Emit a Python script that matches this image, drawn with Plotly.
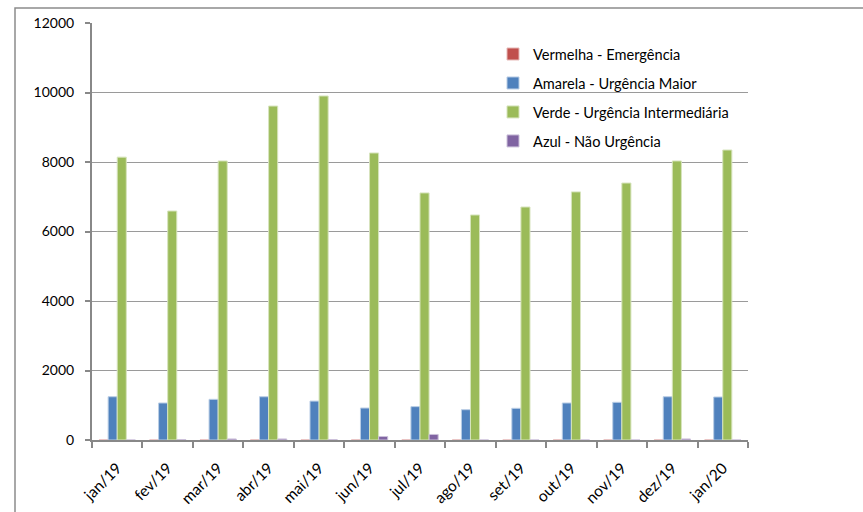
import plotly.graph_objects as go

meses = ["jan/19", "fev/19", "mar/19", "abr/19", "mai/19", "jun/19", "jul/19",
         "ago/19", "set/19", "out/19", "nov/19", "dez/19", "jan/20"]
vermelha = [2, 1, 2, 2, 2, 2, 3, 2, 1, 2, 2, 2, 2]
amarela = [1245, 1065, 1170, 1245, 1120, 920, 960, 872, 912, 1065, 1085, 1245, 1237]
verde = [8140, 6590, 8030, 9610, 9900, 8260, 7110, 6475, 6705, 7140, 7395, 8030, 8345]
azul = [0, 10, 30, 30, 10, 100, 160, 0, 0, 0, 0, 30, 0]

series = [
    ("Vermelha - Emergência", vermelha, "#C0504D", "#E6B9B8"),
    ("Amarela - Urgência Maior", amarela, "#4F81BD", "#B9CDE5"),
    ("Verde - Urgência Intermediária", verde, "#9BBB59", "#D7E4BD"),
    ("Azul - Não Urgência", azul, "#8064A2", "#CCC1DA"),
]

fig = go.Figure()
for i, (nome, vals, cor, borda) in enumerate(series):
    fig.add_trace(go.Bar(
        x=meses, y=vals, name=nome, legendgroup=f"g{i}",
        marker=dict(color=cor, line=dict(color=borda, width=1)),
    ))

W, H = 863, 512
L, R, T, B = 92, 748, 23, 440
pw, ph = R - L, B - T

def px(x):
    return (x - L) / pw

def py(y):
    return (B - y) / ph

fig.update_layout(
    width=W, height=H,
    margin=dict(l=L, r=W - R, t=T, b=H - B, autoexpand=False),
    paper_bgcolor="white", plot_bgcolor="white",
    barmode="group", bargap=0.28, bargroupgap=0,
    font=dict(family="Lato, Carlito, sans-serif", size=13, color="#000000"),
    legend=dict(
        x=px(493), y=py(38), xanchor="left", yanchor="top",
        bgcolor="rgba(0,0,0,0)", traceorder="grouped",
        tracegroupgap=7, itemwidth=30,
        font=dict(size=14.6),
    ),
    showlegend=True,
    shapes=[dict(
        type="rect", xref="paper", yref="paper",
        x0=px(15), x1=px(880), y0=py(530), y1=py(8),
        line=dict(color="#8C8C8C", width=1.5), layer="below",
    )],
)

fig.update_xaxes(
    showline=True, linecolor="#888888", linewidth=2, automargin=False,
    ticks="outside", tickson="boundaries", ticklen=6, tickcolor="#888888", tickwidth=1.5,
    tickangle=-45, showgrid=False, ticklabelstandoff=11,
    tickfont=dict(size=15.5),
)
fig.update_yaxes(
    range=[0, 12000], dtick=2000, tickformat="d", automargin=False,
    showline=True, linecolor="#888888", linewidth=2,
    ticks="outside", ticklen=5, tickcolor="#888888", tickwidth=1.5,
    showgrid=True, gridcolor="#9A9A9A", gridwidth=1,
    ticklabelstandoff=8, zeroline=False,
    tickfont=dict(size=14),
)

fig.write_html("out.html")
